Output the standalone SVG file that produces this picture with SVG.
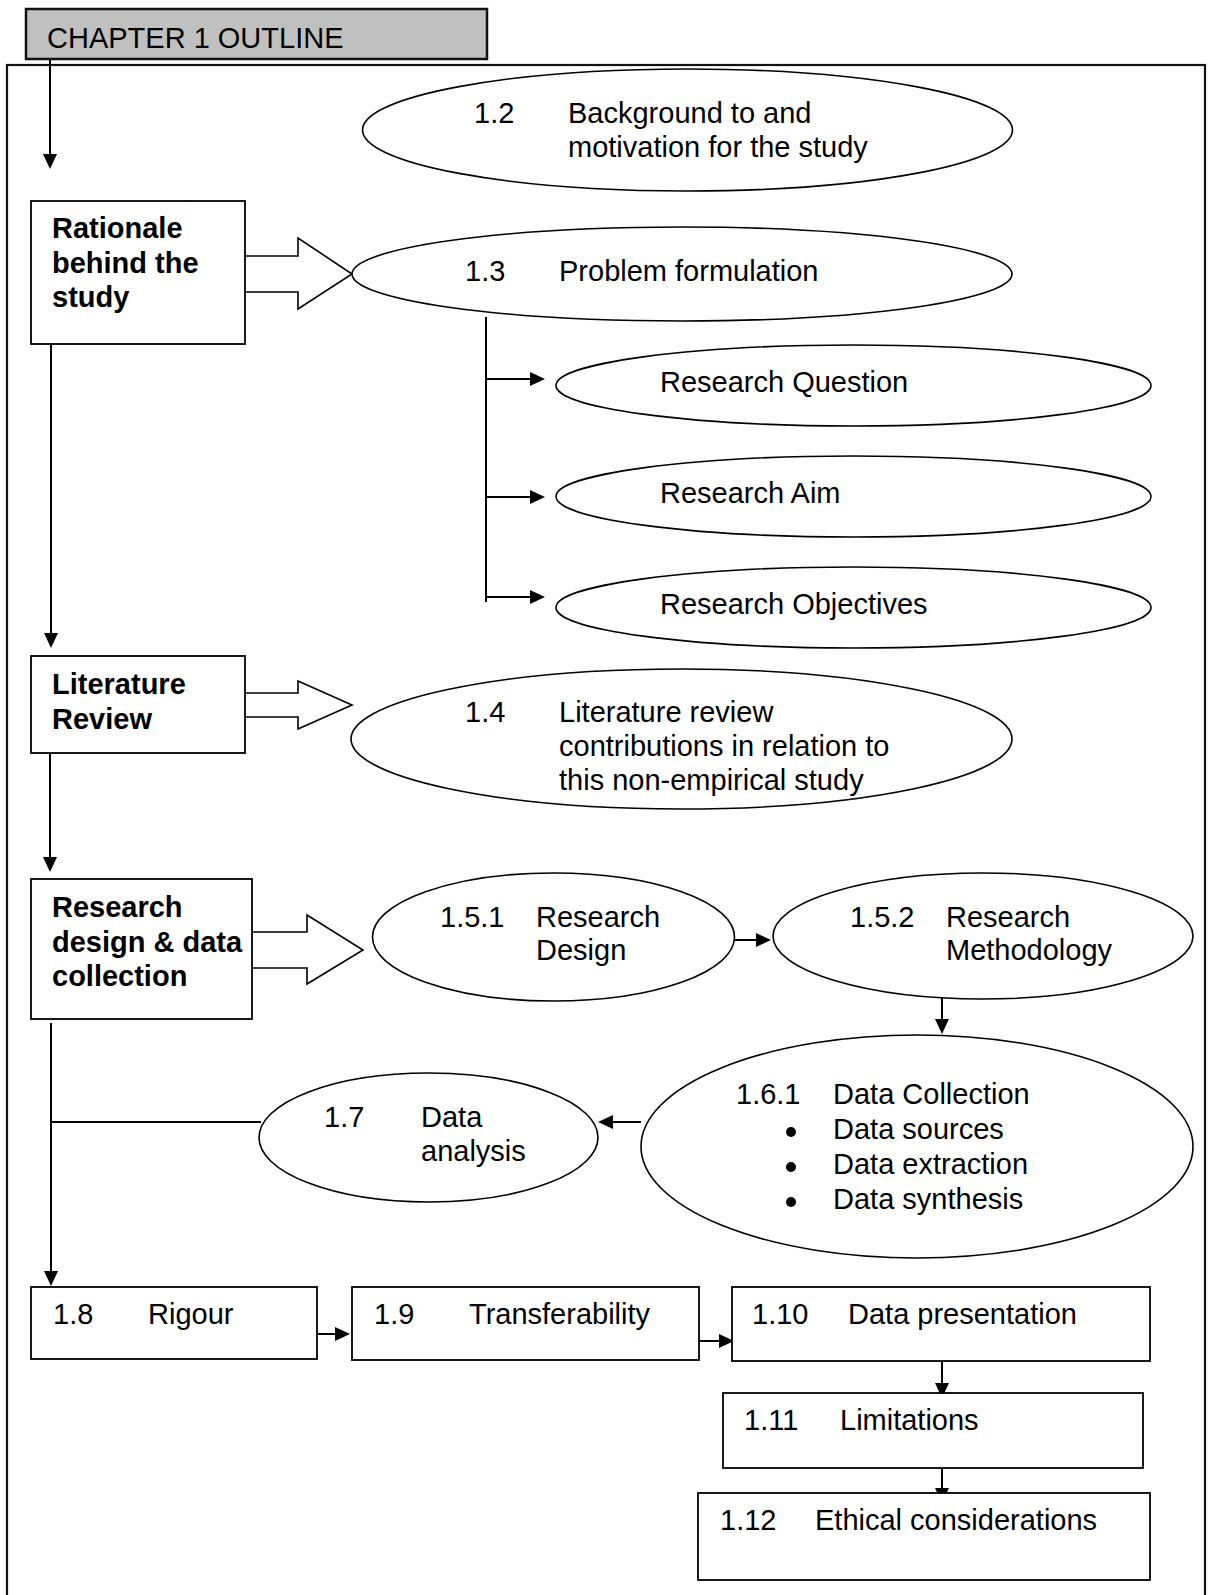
<svg xmlns="http://www.w3.org/2000/svg" width="1208" height="1595" viewBox="0 0 1208 1595">
  <defs>
    <style>
      .box { fill: #fff; stroke: #000; stroke-width: 1.8; }
      .oval { fill: #fff; stroke: #000; stroke-width: 1.6; }
      .frame { fill: none; stroke: #111; stroke-width: 2.2; }
      .head { fill: #c0c0c0; stroke: #111; stroke-width: 2.5; }
      .conn { fill: none; stroke: #000; stroke-width: 2; }
      .link { fill: none; stroke: #000; stroke-width: 2; marker-end: url(#ah); }
      .blk-fill { fill: #fff; stroke: none; }
      .blk-line { fill: none; stroke: #000; stroke-width: 1.6; stroke-linejoin: miter; }
      text { font-family: "Liberation Sans", Arial, sans-serif; fill: #000; }
      .ttl { font-size: 29px; }
      .t { font-size: 29px; }
      .b { font-size: 29px; font-weight: bold; }
    </style>
    <marker id="ah" viewBox="0 0 15 14" refX="3" refY="7" markerWidth="15" markerHeight="14" markerUnits="userSpaceOnUse" orient="auto">
      <path d="M0,0 L15,7 L0,14 z" fill="#000"/>
    </marker>
  </defs>

  <rect width="1208" height="1595" fill="#fff"/>

  <!-- outer frame, open below the page edge -->
  <rect class="frame" x="7" y="65" width="1198" height="1560"/>

  <!-- heading -->
  <g id="chapter-title">
    <rect class="head" x="26" y="9" width="461" height="50"/>
    <text class="ttl" x="47" y="48">CHAPTER 1 OUTLINE</text>
  </g>

  <!-- connectors -->
  <g id="connectors">
    <path class="link" d="M50,60 V157"/>
    <path class="link" d="M51,332 V636"/>
    <path class="link" d="M50,753 V860"/>
    <path class="link" d="M51,1023 V1274"/>
    <path class="conn" d="M51,1122 H261"/>

    <path class="conn" d="M486,317 V602"/>
    <path class="link" d="M486,379 H533"/>
    <path class="link" d="M486,497 H533"/>
    <path class="link" d="M486,597 H533"/>

    <path class="link" d="M734,940 H759"/>
    <path class="link" d="M942,997 V1022"/>
    <path class="link" d="M641,1122 H610"/>

    <path class="link" d="M313,1334 H338"/>
    <path class="link" d="M699,1341 H722"/>
    <path class="link" d="M942,1361 V1386"/>
    <path class="link" d="M942,1468 V1491"/>

    <!-- hollow block arrows from the section boxes -->
    <g id="block-arrow-rationale">
      <polygon class="blk-fill" points="243,256 298,256 298,238 352,274 298,309 298,292 243,292"/>
      <polyline class="blk-line" points="245,256 298,256 298,238 352,274 298,309 298,292 245,292"/>
    </g>
    <g id="block-arrow-literature">
      <polygon class="blk-fill" points="243,693 298,693 298,681 352,705 298,729 298,717 243,717"/>
      <polyline class="blk-line" points="245,693 298,693 298,681 352,705 298,729 298,717 245,717"/>
    </g>
    <g id="block-arrow-design">
      <polygon class="blk-fill" points="250,932 307,932 307,915 363,950 307,984 307,968 250,968"/>
      <polyline class="blk-line" points="252,932 307,932 307,915 363,950 307,984 307,968 252,968"/>
    </g>
  </g>

  <!-- left column: section boxes -->
  <g id="rationale">
    <rect class="box" x="31" y="201" width="214" height="143"/>
    <text class="b"><tspan x="52" y="238">Rationale</tspan><tspan x="52" y="273">behind the</tspan><tspan x="52" y="307">study</tspan></text>
  </g>
  <g id="literature-review">
    <rect class="box" x="31" y="656" width="214" height="97"/>
    <text class="b"><tspan x="52" y="694">Literature</tspan><tspan x="52" y="729">Review</tspan></text>
  </g>
  <g id="research-design-box">
    <rect class="box" x="31" y="879" width="221" height="140"/>
    <text class="b"><tspan x="52" y="917">Research</tspan><tspan x="52" y="952">design &amp; data</tspan><tspan x="52" y="986">collection</tspan></text>
  </g>

  <!-- ovals -->
  <g id="s1-2">
    <ellipse class="oval" cx="687.5" cy="130" rx="325" ry="61"/>
    <text class="t" x="474" y="123">1.2</text>
    <text class="t"><tspan x="568" y="123">Background to and</tspan><tspan x="568" y="157">motivation for the study</tspan></text>
  </g>
  <g id="s1-3">
    <ellipse class="oval" cx="682" cy="274" rx="330" ry="47"/>
    <text class="t" x="465" y="281">1.3</text>
    <text class="t" x="559" y="281">Problem formulation</text>
  </g>
  <g id="research-question">
    <ellipse class="oval" cx="853.5" cy="385.5" rx="297.5" ry="40.5"/>
    <text class="t" x="660" y="392">Research Question</text>
  </g>
  <g id="research-aim">
    <ellipse class="oval" cx="853.5" cy="496.5" rx="297.5" ry="40.5"/>
    <text class="t" x="660" y="503">Research Aim</text>
  </g>
  <g id="research-objectives">
    <ellipse class="oval" cx="853.5" cy="607.5" rx="297.5" ry="40.5"/>
    <text class="t" x="660" y="614">Research Objectives</text>
  </g>
  <g id="s1-4">
    <ellipse class="oval" cx="681.5" cy="739" rx="330.5" ry="70"/>
    <text class="t" x="465" y="722">1.4</text>
    <text class="t"><tspan x="559" y="722">Literature review</tspan><tspan x="559" y="756">contributions in relation to</tspan><tspan x="559" y="790">this non-empirical study</tspan></text>
  </g>
  <g id="s1-5-1">
    <ellipse class="oval" cx="553.5" cy="937" rx="181" ry="64"/>
    <text class="t" x="440" y="927">1.5.1</text>
    <text class="t"><tspan x="536" y="927">Research</tspan><tspan x="536" y="960">Design</tspan></text>
  </g>
  <g id="s1-5-2">
    <ellipse class="oval" cx="983" cy="936" rx="210" ry="63"/>
    <text class="t" x="850" y="927">1.5.2</text>
    <text class="t"><tspan x="946" y="927">Research</tspan><tspan x="946" y="960">Methodology</tspan></text>
  </g>
  <g id="s1-6-1">
    <ellipse class="oval" cx="917" cy="1146.5" rx="276" ry="111.5"/>
    <text class="t" x="736" y="1104">1.6.1</text>
    <text class="t"><tspan x="833" y="1104">Data Collection</tspan><tspan x="833" y="1139">Data sources</tspan><tspan x="833" y="1174">Data extraction</tspan><tspan x="833" y="1209">Data synthesis</tspan></text>
    <circle cx="791" cy="1132" r="5"/>
    <circle cx="791" cy="1167" r="5"/>
    <circle cx="791" cy="1202" r="5"/>
  </g>
  <g id="s1-7">
    <ellipse class="oval" cx="428.5" cy="1137.5" rx="169.5" ry="64.5"/>
    <text class="t" x="324" y="1127">1.7</text>
    <text class="t"><tspan x="421" y="1127">Data</tspan><tspan x="421" y="1161">analysis</tspan></text>
  </g>

  <!-- bottom row of boxes -->
  <g id="s1-8">
    <rect class="box" x="31" y="1287" width="286" height="72"/>
    <text class="t" x="53" y="1324">1.8</text>
    <text class="t" x="148" y="1324">Rigour</text>
  </g>
  <g id="s1-9">
    <rect class="box" x="352" y="1287" width="347" height="73"/>
    <text class="t" x="374" y="1324">1.9</text>
    <text class="t" x="469" y="1324">Transferability</text>
  </g>
  <g id="s1-10">
    <rect class="box" x="732" y="1287" width="418" height="74"/>
    <text class="t" x="752" y="1324">1.10</text>
    <text class="t" x="848" y="1324">Data presentation</text>
  </g>
  <g id="s1-11">
    <rect class="box" x="723" y="1393" width="420" height="75"/>
    <text class="t" x="744" y="1430">1.11</text>
    <text class="t" x="840" y="1430">Limitations</text>
  </g>
  <g id="s1-12">
    <rect class="box" x="698" y="1493" width="452" height="87"/>
    <text class="t" x="720" y="1530">1.12</text>
    <text class="t" x="815" y="1530">Ethical considerations</text>
  </g>
</svg>
